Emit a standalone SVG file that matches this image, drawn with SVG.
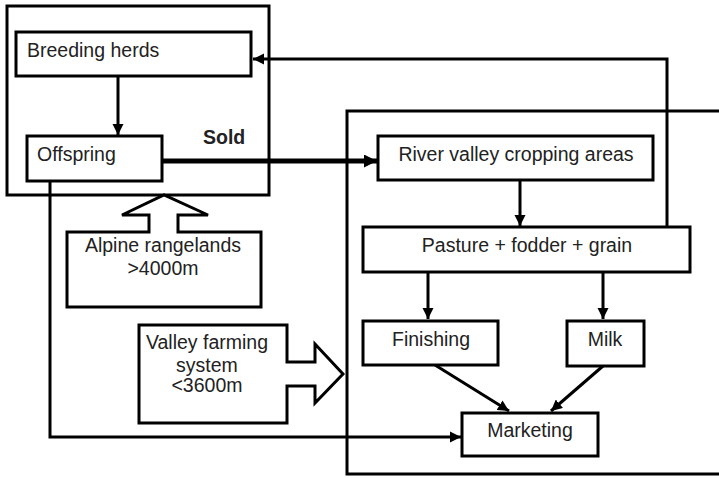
<svg xmlns="http://www.w3.org/2000/svg" width="719" height="478" viewBox="0 0 719 478">
<style>
.box{fill:#fff;stroke:#000;stroke-width:3}
.frame{fill:none;stroke:#000;stroke-width:3}
.ln{fill:none;stroke:#000;stroke-width:3}
.thick{fill:none;stroke:#000;stroke-width:5}
text{font-family:"Liberation Sans",Arial,sans-serif;font-size:19.5px;fill:#222}
.c{text-anchor:middle}
.b{font-weight:bold}
</style>
<defs>
<marker id="ah" viewBox="0 0 10 10" refX="10" refY="5" markerWidth="3.7" markerHeight="3.7" markerUnits="strokeWidth" orient="auto">
<path d="M0,0 L10,5 L0,10 z" fill="#000"/>
</marker>
<marker id="ahT" viewBox="0 0 10 10" refX="10" refY="5" markerWidth="3" markerHeight="2.6" markerUnits="strokeWidth" orient="auto">
<path d="M0,0 L10,5 L0,10 z" fill="#000"/>
</marker>
</defs>
<g id="frames">
<rect class="frame" x="7" y="6" width="262" height="189"/>
<path class="frame" d="M722,111 H347 V474 H722"/>
</g>
<g id="connectors">
<path class="ln" d="M118,76 V135" marker-end="url(#ah)"/>
<path class="thick" d="M162,161 H377" marker-end="url(#ahT)"/>
<path class="ln" d="M667,227 V59 H253" marker-end="url(#ah)"/>
<path class="ln" d="M520,180 V226" marker-end="url(#ah)"/>
<path class="ln" d="M428,272 V319" marker-end="url(#ah)"/>
<path class="ln" d="M603,272 V319" marker-end="url(#ah)"/>
<path class="ln" d="M435,365 L509,411" marker-end="url(#ah)"/>
<path class="ln" d="M603,366 L551,411" marker-end="url(#ah)"/>
<path class="ln" d="M50,181 V437 H461" marker-end="url(#ah)"/>
</g>
<g id="breeding">
<rect class="box" x="16" y="32" width="235" height="44"/>
<text x="27" y="57">Breeding herds</text>
</g>
<g id="offspring">
<rect class="box" x="27" y="136" width="135" height="45"/>
<text x="37" y="161">Offspring</text>
</g>
<g id="sold">
<text class="b" x="203" y="144">Sold</text>
</g>
<g id="river">
<rect class="box" x="378" y="136" width="275" height="44"/>
<text class="c" x="516" y="161">River valley cropping areas</text>
</g>
<g id="pasture">
<rect class="box" x="363" y="227" width="327" height="45"/>
<text class="c" x="527" y="252">Pasture + fodder + grain</text>
</g>
<g id="finishing">
<rect class="box" x="363" y="321" width="135" height="44"/>
<text class="c" x="431" y="346">Finishing</text>
</g>
<g id="milk">
<rect class="box" x="567" y="321" width="77" height="45"/>
<text class="c" x="605" y="346">Milk</text>
</g>
<g id="marketing">
<rect class="box" x="462" y="413" width="136" height="43"/>
<text class="c" x="530" y="437">Marketing</text>
</g>
<g id="alpine">
<path class="box" d="M67,232 H149 V215 H122 L164,195 L208,215 H178 V232 H261 V307 H67 Z"/>
<text class="c" x="163" y="252">Alpine rangelands</text>
<text class="c" x="163" y="275">&gt;4000m</text>
</g>
<g id="valley">
<path class="box" d="M139,325 H287 V362 H315 V344 L343,374 L315,403 V386 H287 V423 H139 Z"/>
<text class="c" x="207" y="349">Valley farming</text>
<text class="c" x="207" y="372">system</text>
<text class="c" x="207" y="392">&lt;3600m</text>
</g>
</svg>
